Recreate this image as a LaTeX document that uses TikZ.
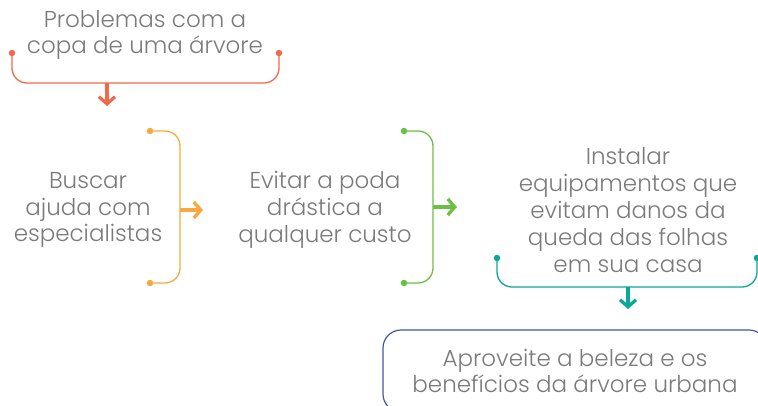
\documentclass[tikz,border=0pt]{standalone}
\usepackage{fontspec}
\setmainfont{Poppins Light}
\usepackage{tikz}
\usetikzlibrary{positioning}
\usetikzlibrary{calc}
\usetikzlibrary{arrows.meta}
\definecolor{redA}{HTML}{F0694A}
\definecolor{orangeA}{HTML}{F7A940}
\definecolor{greenA}{HTML}{6BBE46}
\definecolor{tealA}{HTML}{0AA89A}
\definecolor{blueA}{HTML}{4454A8}
\definecolor{textgray}{HTML}{7A7A7A}
\tikzstyle{txt} = [align=center, text=textgray, inner sep=0pt, font=\fontsize{23}{26.8}\selectfont]
\tikzstyle{dot} = [circle, fill, inner sep=0pt, minimum size=6.5pt]
\tikzstyle{coord} = [coordinate]
\tikzstyle{brace} = [line width=1.3pt, rounded corners=15pt]
\tikzstyle{arr} = [line width=3.3pt, -{Straight Barb[length=7pt 0 0,width=16pt 0 0]}]
\tikzstyle{goal} = [txt, draw=blueA, line width=1.2pt, rounded corners=18pt, minimum width=384pt, minimum height=82pt]

\begin{document}
\begin{tikzpicture}[x=1pt,y=-1pt,node distance=237pt]
    \useasboundingbox (0,0) rectangle (758,405);
    \node [txt] (problem) at (145,35) {Problemas com a\\copa de uma árvore};
    \node [txt] (search) at (88,210) {Buscar\\ajuda com\\especialistas};
    \node [txt, right of=search] (avoid) {Evitar a poda\\drástica a\\qualquer custo};
    \node [txt, right of=avoid, node distance=303pt] (install) {Instalar\\equipamentos que\\evitam danos da\\queda das folhas\\em sua casa};
    \node [goal] (enjoy) at (575,371) {Aproveite a beleza e os\\benefícios da árvore urbana};

    \node [dot, redA] (p1) at (12,53) {};
    \node [dot, redA] (p2) at (279,53) {};
    \node [coord] (pb) at (107,83) {};
    \node [coord] (pe) at (107,106) {};
    \draw [brace, redA] (p1.center) |- (pb) -| (p2.center);
    \draw [arr, redA] (pb) -- (pe);

    \node [dot, orangeA] (s1) at (150,131) {};
    \node [dot, orangeA] (s2) at (150,283) {};
    \node [coord] (sb) at (180,210) {};
    \node [coord] (se) at (203,210) {};
    \draw [brace, orangeA] (s1.center) -| (sb) |- (s2.center);
    \draw [arr, orangeA] (sb) -- (se);

    \node [dot, greenA] (a1) at (404,131) {};
    \node [dot, greenA] (a2) at (404,283) {};
    \node [coord] (ab) at (433,207) {};
    \node [coord] (ae) at (457,207) {};
    \draw [brace, greenA] (a1.center) -| (ab) |- (a2.center);
    \draw [arr, greenA] (ab) -- (ae);

    \node [dot, tealA] (i1) at (497,258) {};
    \node [dot, tealA] (i2) at (757,258) {};
    \node [coord] (ib) at (628,287) {};
    \node [coord] (ie) at (628,309) {};
    \draw [brace, tealA] (i1.center) |- (ib) -| (i2.center);
    \draw [arr, tealA] (ib) -- (ie);
\end{tikzpicture}
\end{document}
